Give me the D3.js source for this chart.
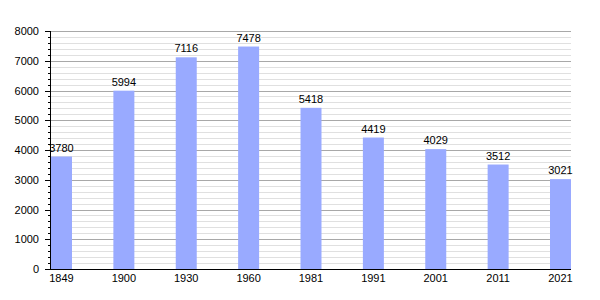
<!DOCTYPE html>
<html>
<head>
<meta charset="utf-8">
<script src="https://cdn.jsdelivr.net/npm/d3@7"></script>
<style>
  html, body { margin: 0; padding: 0; background: #fff; }
  svg { display: block; font-family: "Liberation Sans", Arial, sans-serif; }
</style>
</head>
<body>
<div id="chart"></div>
<script>
const years = ["1849", "1900", "1930", "1960", "1981", "1991", "2001", "2011", "2021"];
const population = [3780, 5994, 7116, 7478, 5418, 4419, 4029, 3512, 3021];
const yTicks = [0, 1000, 2000, 3000, 4000, 5000, 6000, 7000, 8000];

const width = 600, height = 300;
const plotLeft = 51, plotRight = 571, plotTop = 31, plotBottom = 269;

const svg = d3.select("#chart").append("svg")
  .attr("width", width)
  .attr("height", height);

const y = d3.scaleLinear().domain([0, 8000]).range([plotBottom, plotTop]);

// bars: first starts at the axis, last ends at the plot edge
const x = d3.scaleBand()
  .domain(years)
  .range([plotLeft, plotRight])
  .paddingInner(1 - 21 / 62.4)
  .paddingOuter(0);

const py = v => Math.round(y(v)) + 0.5;

// minor grid every 200
const minor = d3.range(200, 8001, 200).filter(v => v % 1000 !== 0);
svg.append("g")
  .selectAll("line")
  .data(minor)
  .enter()
  .append("line")
  .attr("x1", plotLeft)
  .attr("x2", plotRight)
  .attr("y1", py)
  .attr("y2", py)
  .attr("stroke", "#e0e0e0");

// major grid
svg.append("g")
  .selectAll("line")
  .data(yTicks.filter(v => v > 0))
  .enter()
  .append("line")
  .attr("x1", plotLeft)
  .attr("x2", plotRight)
  .attr("y1", py)
  .attr("y2", py)
  .attr("stroke", "#a8a8a8");

// bars
svg.append("g")
  .selectAll("rect")
  .data(population)
  .enter()
  .append("rect")
  .attr("x", (d, i) => x(years[i]))
  .attr("width", x.bandwidth())
  .attr("y", d => y(d))
  .attr("height", d => y(0) - y(d))
  .attr("fill", "#99aaff");

// value labels
svg.append("g")
  .selectAll("text")
  .data(population)
  .enter()
  .append("text")
  .attr("x", (d, i) => x(years[i]) + x.bandwidth() / 2)
  .attr("y", d => y(d) - 5)
  .attr("text-anchor", "middle")
  .attr("font-size", "11px")
  .attr("fill", "#000")
  .text(d => d);

// left axis ticks
const ticks = svg.append("g");
ticks.selectAll("line.minor")
  .data(minor.concat([200, 400, 600, 800].filter(v => !minor.includes(v))))
  .enter()
  .append("line")
  .attr("class", "minor")
  .attr("x1", plotLeft - 3)
  .attr("x2", plotLeft)
  .attr("y1", py)
  .attr("y2", py)
  .attr("stroke", "#000");
ticks.selectAll("line.major")
  .data(yTicks)
  .enter()
  .append("line")
  .attr("class", "major")
  .attr("x1", plotLeft - 6)
  .attr("x2", plotLeft)
  .attr("y1", py)
  .attr("y2", py)
  .attr("stroke", "#000");

ticks.selectAll("text")
  .data(yTicks)
  .enter()
  .append("text")
  .attr("x", plotLeft - 12)
  .attr("y", d => y(d) + 4)
  .attr("text-anchor", "end")
  .attr("font-size", "11px")
  .attr("fill", "#000")
  .text(d => d);

// axis lines
svg.append("line")
  .attr("x1", plotLeft - 0.5).attr("x2", plotLeft - 0.5)
  .attr("y1", plotTop).attr("y2", plotBottom + 1)
  .attr("stroke", "#000");
svg.append("line")
  .attr("x1", plotLeft - 1).attr("x2", plotRight)
  .attr("y1", plotBottom + 0.5).attr("y2", plotBottom + 0.5)
  .attr("stroke", "#000");

// x labels
svg.append("g")
  .selectAll("text")
  .data(years)
  .enter()
  .append("text")
  .attr("x", d => x(d) + x.bandwidth() / 2)
  .attr("y", plotBottom + 13)
  .attr("text-anchor", "middle")
  .attr("font-size", "11px")
  .attr("fill", "#000")
  .text(d => d);
</script>
</body>
</html>
